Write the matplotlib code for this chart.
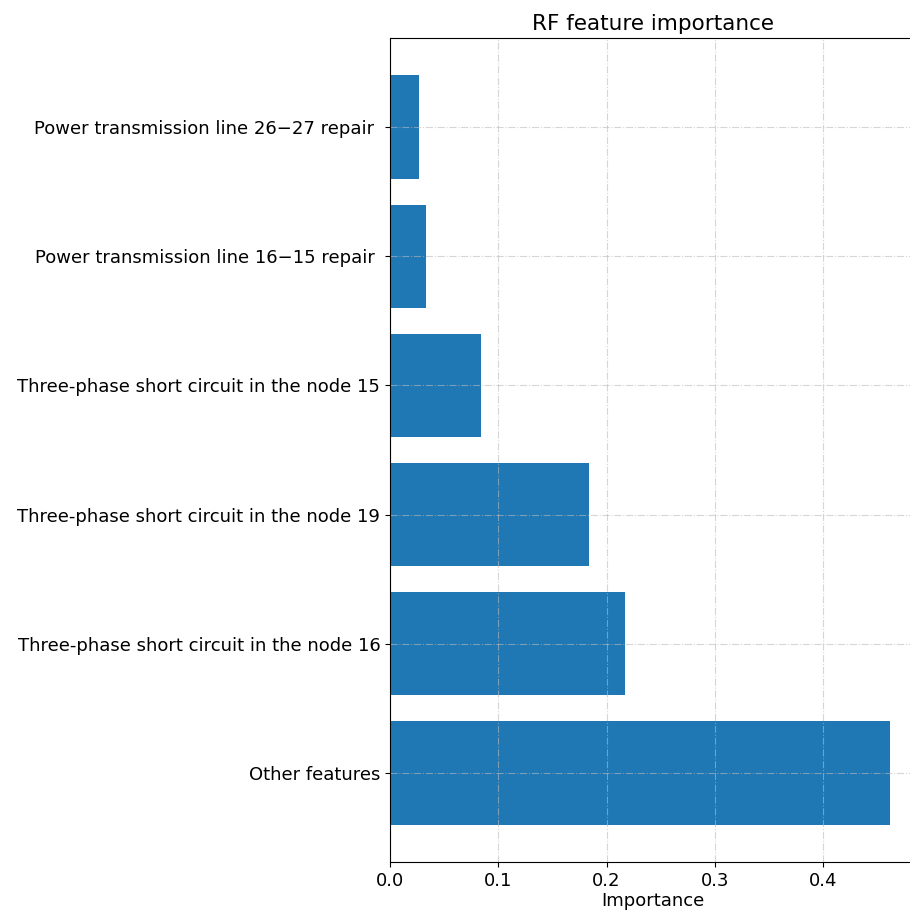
import numpy as np
import matplotlib
matplotlib.use('Agg')
import matplotlib.pyplot as plt

features = ['Other features',
            'Three-phase short circuit in the node 16',
            'Three-phase short circuit in the node 19',
            'Three-phase short circuit in the node 15',
            'Power transmission line 16\u221215 repair ',
            'Power transmission line 26\u221227 repair ']
importance = [0.462, 0.217, 0.184, 0.084, 0.033, 0.027]

fig = plt.figure(figsize=(9.1, 9.14), dpi=100)
# right side of the axes runs just past the canvas edge, as in the reference
ax = fig.add_axes([0.4286, 0.0569, 0.577, 0.9015])

pos = np.arange(len(features))
ax.barh(pos, importance, height=0.8, color='#1f77b4')
ax.set_yticks(pos)
ax.set_yticklabels(features, fontsize=13)
ax.tick_params(axis='x', labelsize=13)
ax.set_xticks([0.0, 0.1, 0.2, 0.3, 0.4])
ax.set_xlabel('Importance', fontsize=13, labelpad=2)
ax.set_title('RF feature importance', fontsize=15.5)
ax.grid(True, linestyle='-.', color='#bbbbbb', alpha=0.6, linewidth=0.8)

fig.savefig('out.png', dpi=100)
